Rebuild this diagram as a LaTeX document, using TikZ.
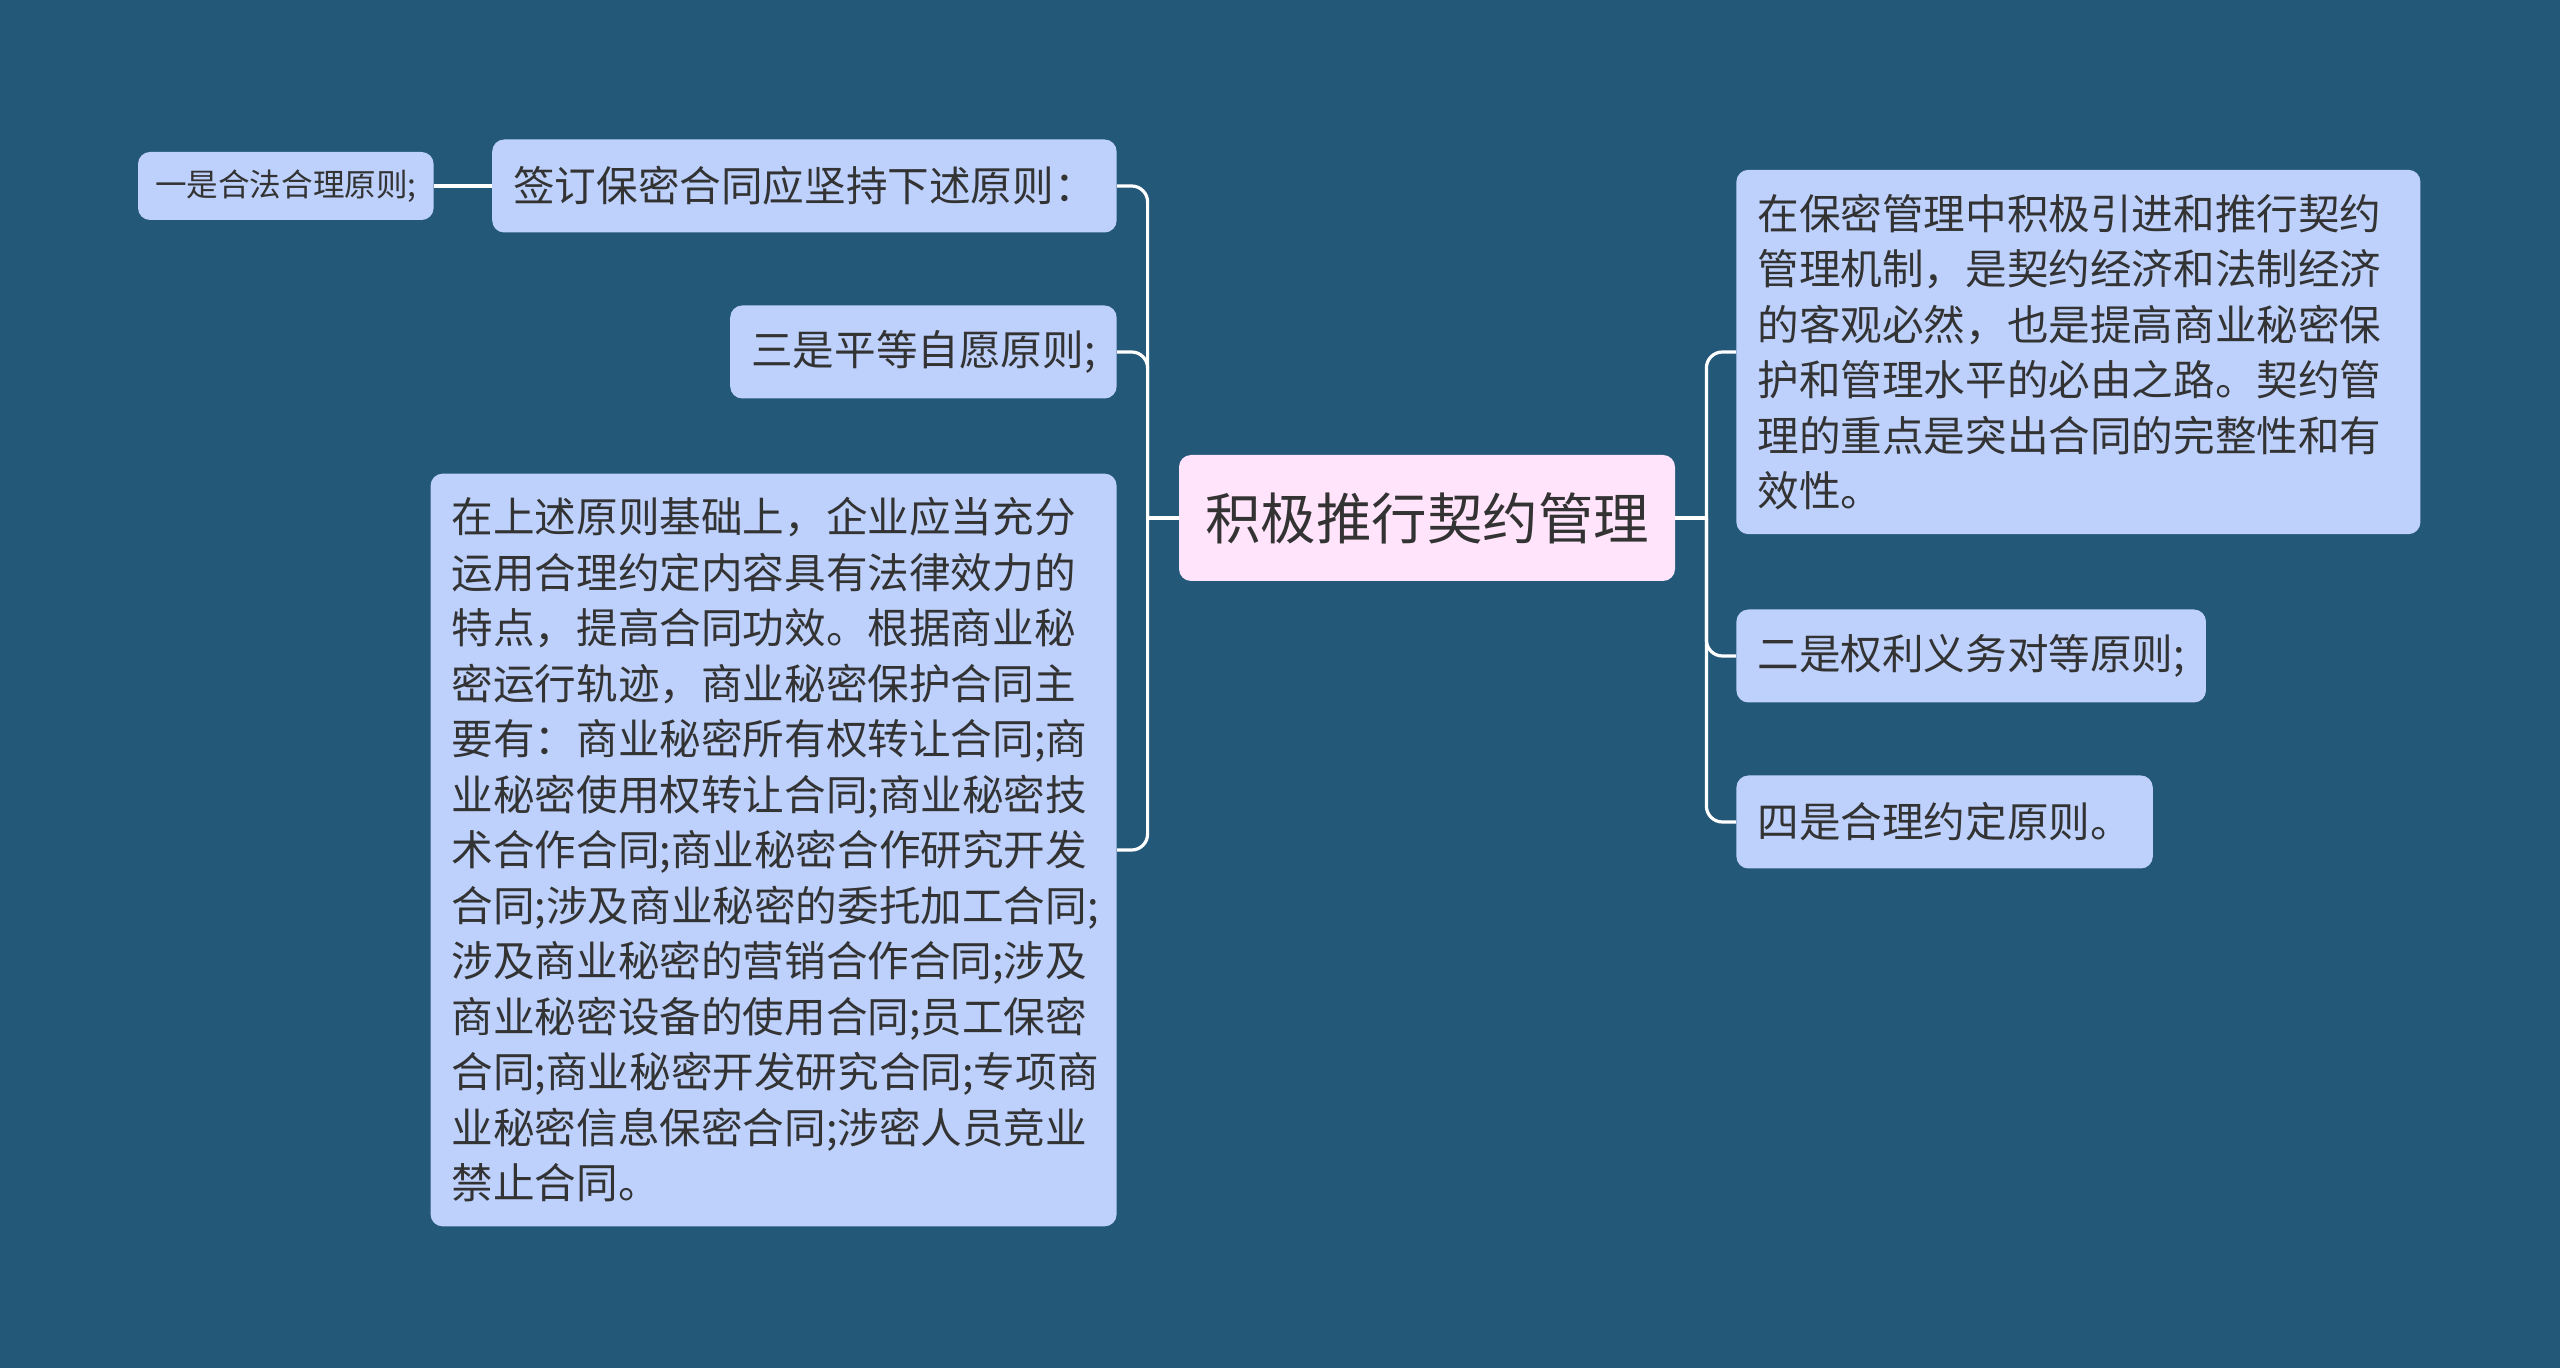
\documentclass[tikz,border=0pt]{standalone}
\usepackage{fontspec}
\setmainfont{Noto Sans CJK SC}
\usepackage{tikz}
\definecolor{bgblue}{RGB}{36,88,121}
\definecolor{nodeblue}{RGB}{189,209,252}
\definecolor{rootpink}{RGB}{255,228,251}
\definecolor{inkgray}{RGB}{51,51,51}

\begin{document}
\begin{tikzpicture}[x=0.5pt, y=-0.5pt]
  \tikzstyle{topic}=[rectangle, fill=nodeblue, rounded corners=6pt, text=inkgray, inner xsep=10.5pt, font=\fontsize{20.8}{27.75}\selectfont]
  \tikzstyle{single}=[topic, minimum height=46.5pt]
  \tikzstyle{para}=[topic, align=left, inner ysep=12pt]
  \tikzstyle{root}=[topic, fill=rootpink, inner xsep=13pt, minimum height=63pt, font=\fontsize{27.75}{33}\selectfont]
  \tikzstyle{link}=[draw=white, line width=1.6pt, rounded corners=8pt]
  \fill[bgblue] (0,0) rectangle (2560,1368);
  \node[root] (root) at (1427,518) {积极推行契约管理};
  \node[single, anchor=east] (sign) at (1117,186) {签订保密合同应坚持下述原则：};
  \node[topic, anchor=east, minimum height=34pt, inner xsep=8.5pt, font=\fontsize{15.8}{19}\selectfont] (yi) at (434,186) {一是合法合理原则;};
  \node[single, anchor=east] (san) at (1117,352) {三是平等自愿原则;};
  \node[para, anchor=east, text width=322pt] (kinds) at (1117,850) {在上述原则基础上，企业应当充分\\
    运用合理约定内容具有法律效力的\\
    特点，提高合同功效。根据商业秘\\
    密运行轨迹，商业秘密保护合同主\\
    要有：商业秘密所有权转让合同;商\\
    业秘密使用权转让合同;商业秘密技\\
    术合作合同;商业秘密合作研究开发\\
    合同;涉及商业秘密的委托加工合同;\\
    涉及商业秘密的营销合作合同;涉及\\
    商业秘密设备的使用合同;员工保密\\
    合同;商业秘密开发研究合同;专项商\\
    业秘密信息保密合同;涉密人员竞业\\
    禁止合同。};
  \node[para, anchor=west, text width=321pt] (why) at (1736,352) {在保密管理中积极引进和推行契约\\
    管理机制，是契约经济和法制经济\\
    的客观必然，也是提高商业秘密保\\
    护和管理水平的必由之路。契约管\\
    理的重点是突出合同的完整性和有\\
    效性。};
  \node[single, anchor=west] (er) at (1736,656) {二是权利义务对等原则;};
  \node[single, anchor=west] (si) at (1736,822) {四是合理约定原则。};
  \coordinate (lt) at ([xshift=-15.5pt]root.west);
  \coordinate (rt) at ([xshift=15.5pt]root.east);
  \draw[link] (root.west) -- (lt);
  \draw[link] (root.east) -- (rt);
  \draw[link] (lt) |- (sign.east);
  \draw[link] (lt) |- (san.east);
  \draw[link] (lt) |- (kinds.east);
  \draw[link] (rt) |- (why.west);
  \draw[link] (rt) |- (er.west);
  \draw[link] (rt) |- (si.west);
  \draw[link] (sign.west) -- (yi.east);
\end{tikzpicture}
\end{document}
